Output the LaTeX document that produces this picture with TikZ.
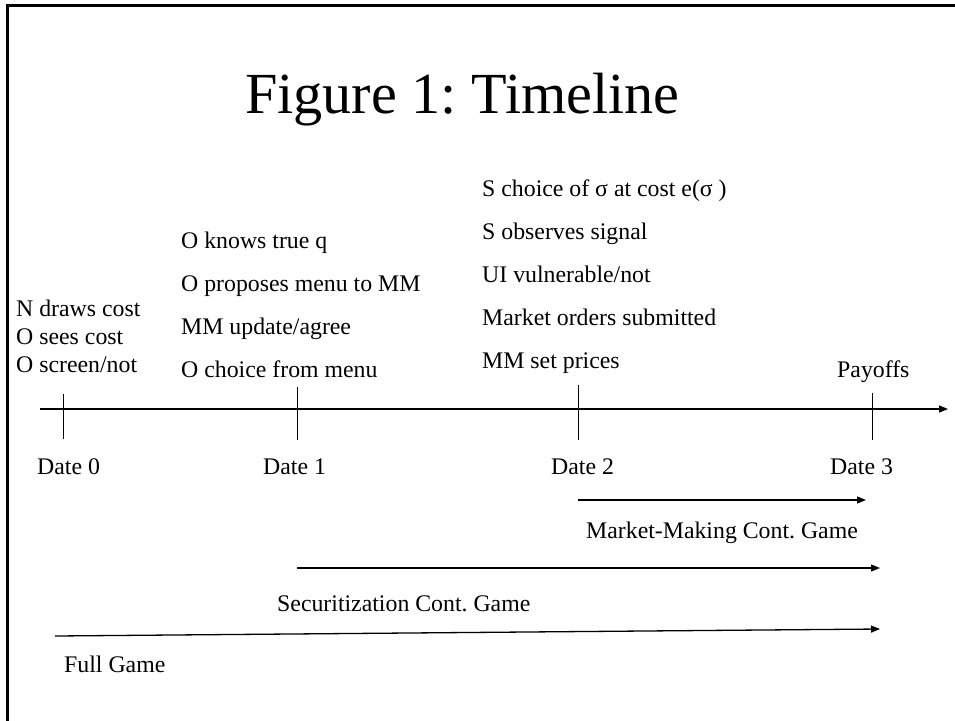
\documentclass[tikz,border=0pt]{standalone}
\usepackage{fontspec}
\setmainfont{Liberation Serif}
\usetikzlibrary{arrows.meta}
\frenchspacing
\begin{document}
\begin{tikzpicture}[x=1pt,y=-1pt,
  lbl/.style={inner sep=0pt,anchor=base west,font=\fontsize{23.8}{28}\selectfont},
  ttl/.style={inner sep=0pt,anchor=base west,font=\fontsize{58.2}{62}\selectfont},
  tick/.style={line width=1pt},
  axisline/.style={line width=1.3pt,-{Triangle[length=9pt,width=7pt]}},
  span/.style={line width=1.3pt,-{Triangle[length=9pt,width=7pt]}},
  frame/.style={line width=3pt}]
\useasboundingbox (0,0) rectangle (955,720);

% frame (left and top edges)
\draw[frame] (7.5,722) -- (7.5,5.5) -- (957,5.5);

% title
\node[ttl] (title) at (245,113) {Figure 1: Timeline};

% time axis
\coordinate (axL) at (40,409);
\coordinate (axR) at (948,409);
\draw[axisline] (axL) -- (axR);

% ticks
\coordinate (t0a) at (63,394);  \coordinate (t0b) at (63,439);
\coordinate (t1a) at (297,387); \coordinate (t1b) at (297,440);
\coordinate (t2a) at (578,385); \coordinate (t2b) at (578,440);
\coordinate (t3a) at (872.5,393); \coordinate (t3b) at (872.5,440);
\draw[tick] (t0a) -- (t0b);
\draw[tick] (t1a) -- (t1b);
\draw[tick] (t2a) -- (t2b);
\draw[tick] (t3a) -- (t3b);

% date labels
\node[lbl] (d0) at (37,474) {Date 0};
\node[lbl] (d1) at (263,474) {Date 1};
\node[lbl] (d2) at (551,474) {Date 2};
\node[lbl] (d3) at (830,474) {Date 3};

% events at date 0
\node[lbl] (e0a) at (16,316) {N draws cost};
\node[lbl] (e0b) at (16,344) {O sees cost};
\node[lbl] (e0c) at (16,372) {O screen/not};

% events at date 1
\node[lbl] (e1a) at (181,248) {O knows true q};
\node[lbl] (e1b) at (181,291) {O proposes menu to MM};
\node[lbl] (e1c) at (181,334) {MM update/agree};
\node[lbl] (e1d) at (181,377) {O choice from menu};

% events at date 2
\node[lbl] (e2a) at (482,196) {S choice of σ at cost e(σ )};
\node[lbl] (e2b) at (482,239) {S observes signal};
\node[lbl] (e2c) at (482,282) {UI vulnerable/not};
\node[lbl] (e2d) at (482,325) {Market orders submitted};
\node[lbl] (e2e) at (482,368) {MM set prices};

% date 3
\node[lbl] (pay) at (837,377) {Payoffs};

% sub-game spans
\coordinate (mmL) at (578,500);  \coordinate (mmR) at (866,500);
\draw[span] (mmL) -- (mmR);
\node[lbl] (mmT) at (586,538) {Market-Making Cont. Game};

\coordinate (scL) at (297,568);  \coordinate (scR) at (880,568);
\draw[span] (scL) -- (scR);
\node[lbl] (scT) at (277,611) {Securitization Cont. Game};

\coordinate (fgL) at (55,636);  \coordinate (fgR) at (880,629);
\draw[span] (fgL) -- (fgR);
\node[lbl] (fgT) at (64,672) {Full Game};
\end{tikzpicture}
\end{document}
